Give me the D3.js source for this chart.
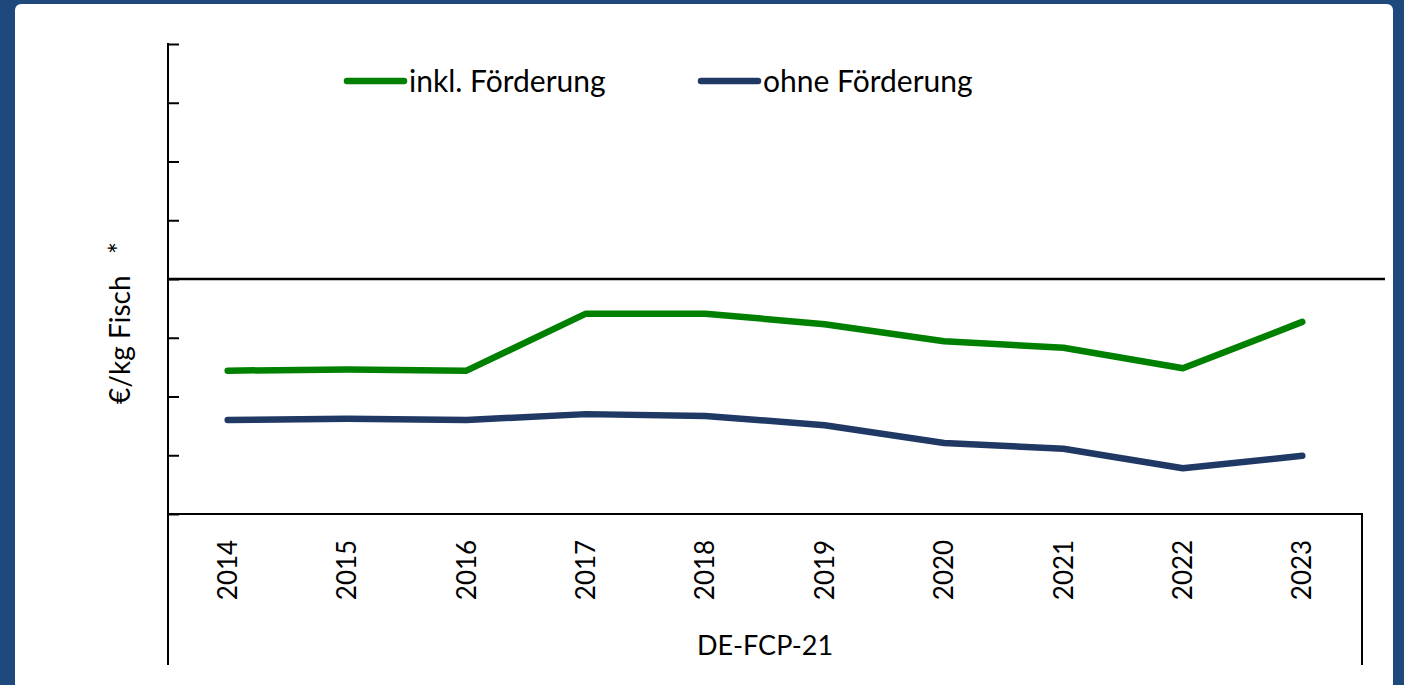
<!DOCTYPE html>
<html>
<head>
<meta charset="utf-8">
<script src="https://cdn.jsdelivr.net/npm/d3@7"></script>
<style>
  html, body { margin: 0; padding: 0; background: #1f497d; }
  svg { display: block; }
  text { font-family: Lato, "Open Sans", sans-serif; fill: #000; }
</style>
</head>
<body>
<svg id="chart" width="1404" height="685"></svg>
<script>
// data (y axis has no labels, 1 unit = 1 tick step)
var years = ['2014', '2015', '2016', '2017', '2018', '2019', '2020', '2021', '2022', '2023'];
var inklFoerderung = [-1.56, -1.54, -1.56, -0.59, -0.59, -0.77, -1.06, -1.17, -1.52, -0.73];
var ohneFoerderung = [-2.40, -2.38, -2.40, -2.30, -2.33, -2.49, -2.79, -2.89, -3.22, -3.01];
var yTicks = [-4, -3, -2, -1, 0, 1, 2, 3, 4];
var seriesNames = ['inkl. Förderung', 'ohne Förderung'];
var seriesColors = ['#008000', '#1f3864'];

var svg = d3.select('#chart');

// white panel
svg.append('rect')
    .attr('x', 15).attr('y', 4)
    .attr('width', 1378).attr('height', 700)
    .attr('rx', 6)
    .attr('fill', '#fff');

var plotLeft = 168, plotRight = 1362, plotTop = 44, plotBottom = 514;

var x = d3.scaleBand().domain(years).range([plotLeft, plotRight]);
var y = d3.scaleLinear().domain([-4, 4]).range([plotBottom, plotTop]);

// y axis, ticks inward
var yAxis = svg.append('g')
    .attr('transform', 'translate(' + plotLeft + ',0)')
    .call(d3.axisRight(y).tickValues(yTicks).tickSize(11).tickFormat(''));
yAxis.select('.domain').remove();
yAxis.selectAll('line').attr('stroke', '#000').attr('stroke-width', 2);
svg.append('line')
    .attr('x1', plotLeft).attr('x2', plotLeft)
    .attr('y1', plotTop - 1).attr('y2', 665)
    .attr('stroke', '#000').attr('stroke-width', 2);

// zero line
svg.append('line')
    .attr('x1', plotLeft).attr('x2', 1385)
    .attr('y1', y(0)).attr('y2', y(0))
    .attr('stroke', '#000').attr('stroke-width', 2.5);

// category box under the plot
svg.append('path')
    .attr('d', 'M' + plotLeft + ',' + plotBottom + 'H' + plotRight + 'V665')
    .attr('fill', 'none')
    .attr('stroke', '#000').attr('stroke-width', 2);

// year labels
svg.selectAll('.year')
    .data(years)
    .enter().append('text')
      .attr('class', 'year')
      .attr('transform', function(d) { return 'translate(' + (x(d) + x.bandwidth() / 2 + 9) + ',570) rotate(-90)'; })
      .attr('text-anchor', 'middle')
      .style('font-size', '26px')
      .text(function(d) { return d; });

svg.append('text')
    .attr('x', (plotLeft + plotRight) / 2)
    .attr('y', 655)
    .attr('text-anchor', 'middle')
    .style('font-size', '27px')
    .text('DE-FCP-21');

svg.append('text')
    .attr('transform', 'translate(130,323) rotate(-90)')
    .attr('text-anchor', 'middle')
    .style('font-size', '28px')
    .style('white-space', 'pre')
    .text('€/kg Fisch   *');

// lines
var line = d3.line()
    .x(function(d, i) { return x(years[i]) + x.bandwidth() / 2; })
    .y(function(d) { return y(d); });

[inklFoerderung, ohneFoerderung].forEach(function(values, i) {
  svg.append('path')
      .attr('d', line(values))
      .attr('fill', 'none')
      .attr('stroke', seriesColors[i])
      .attr('stroke-width', 6.5)
      .attr('stroke-linecap', 'round')
      .attr('stroke-linejoin', 'round');
});

// legend
var legendX = [347, 701];
seriesNames.forEach(function(name, i) {
  svg.append('line')
      .attr('x1', legendX[i]).attr('x2', legendX[i] + 57)
      .attr('y1', 81).attr('y2', 81)
      .attr('stroke', seriesColors[i])
      .attr('stroke-width', 6.5)
      .attr('stroke-linecap', 'round');
  svg.append('text')
      .attr('x', legendX[i] + 62)
      .attr('y', 92)
      .style('font-size', '30px')
      .text(name);
});
</script>
</body>
</html>
